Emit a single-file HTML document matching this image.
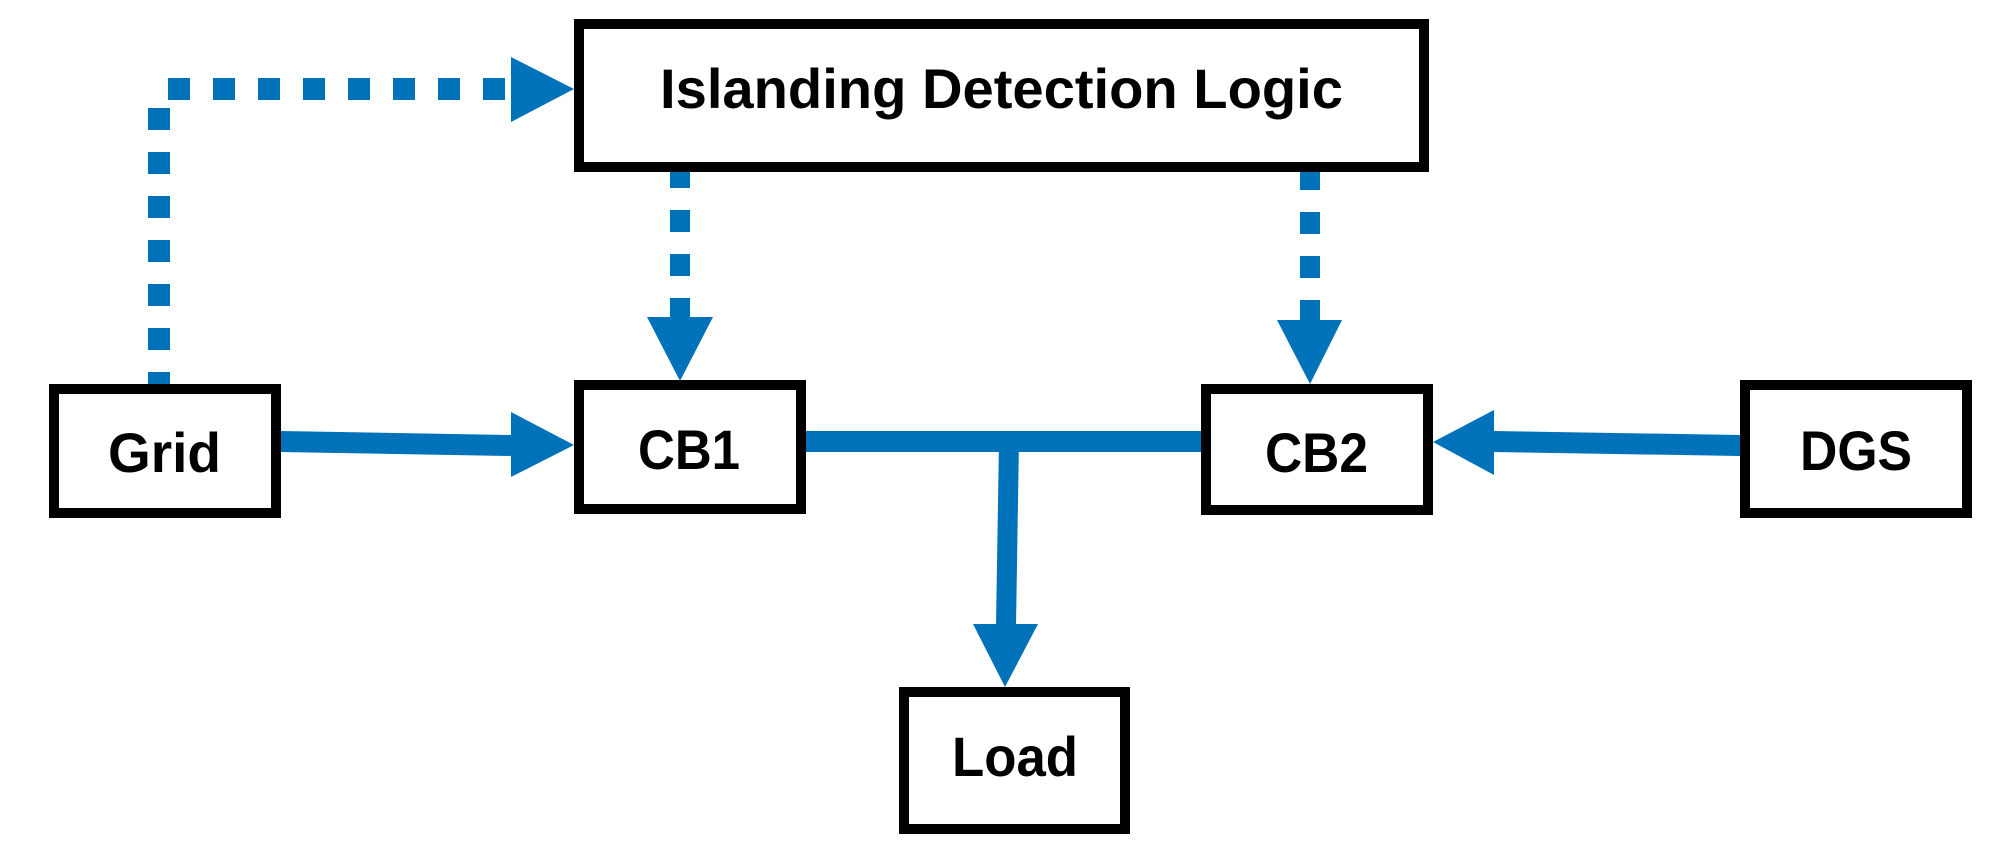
<!DOCTYPE html>
<html><head><style>html,body{margin:0;padding:0;background:#fff;}svg{display:block}</style></head>
<body>
<svg width="2008" height="864" viewBox="0 0 2008 864" xmlns="http://www.w3.org/2000/svg">
<g fill="#0072BA">
  <line x1="159" y1="394" x2="159" y2="103" stroke="#0072BA" stroke-width="22" stroke-dasharray="22 22"/>
  <line x1="168" y1="89" x2="512" y2="89" stroke="#0072BA" stroke-width="22" stroke-dasharray="22 23"/>
  <polygon points="511,57 574,89 511,122"/>
  <line x1="680" y1="166" x2="680" y2="318" stroke="#0072BA" stroke-width="20" stroke-dasharray="22 22"/>
  <polygon points="647,317 713,317 680,381"/>
  <line x1="1310" y1="168" x2="1310" y2="321" stroke="#0072BA" stroke-width="20" stroke-dasharray="22 22"/>
  <polygon points="1277,320 1342,320 1310,384"/>
  <polygon points="281,431 512,435 512,456 281,452"/>
  <polygon points="511,412 574,445 511,477"/>
  <rect x="806" y="431" width="395" height="21"/>
  <polygon points="999,440 1019,440 1016,626 996,626"/>
  <polygon points="973,624 1038,624 1005,687"/>
  <polygon points="1740,435 1740,456 1493,452 1493,431"/>
  <polygon points="1494,410 1433,442 1494,475"/>
</g>
<g fill="#fff" stroke="#000" stroke-width="10">
  <rect x="579" y="24" width="845" height="143"/>
  <rect x="54" y="389" width="222" height="124"/>
  <rect x="579" y="385" width="222" height="124"/>
  <rect x="1206" y="389" width="222" height="121"/>
  <rect x="1745" y="385" width="222" height="128"/>
  <rect x="904" y="692" width="221" height="137"/>
</g>
<g font-family="Liberation Sans, sans-serif" font-weight="bold" font-size="56" fill="#000">
  <text x="660" y="108" textLength="683" lengthAdjust="spacingAndGlyphs">Islanding Detection Logic</text>
  <text x="108" y="472" textLength="113" lengthAdjust="spacingAndGlyphs">Grid</text>
  <text x="638" y="469" textLength="102" lengthAdjust="spacingAndGlyphs">CB1</text>
  <text x="1265" y="472" textLength="103" lengthAdjust="spacingAndGlyphs">CB2</text>
  <text x="1800" y="470" textLength="112" lengthAdjust="spacingAndGlyphs">DGS</text>
  <text x="952" y="776" textLength="126" lengthAdjust="spacingAndGlyphs">Load</text>
</g>
</svg>
</body></html>
